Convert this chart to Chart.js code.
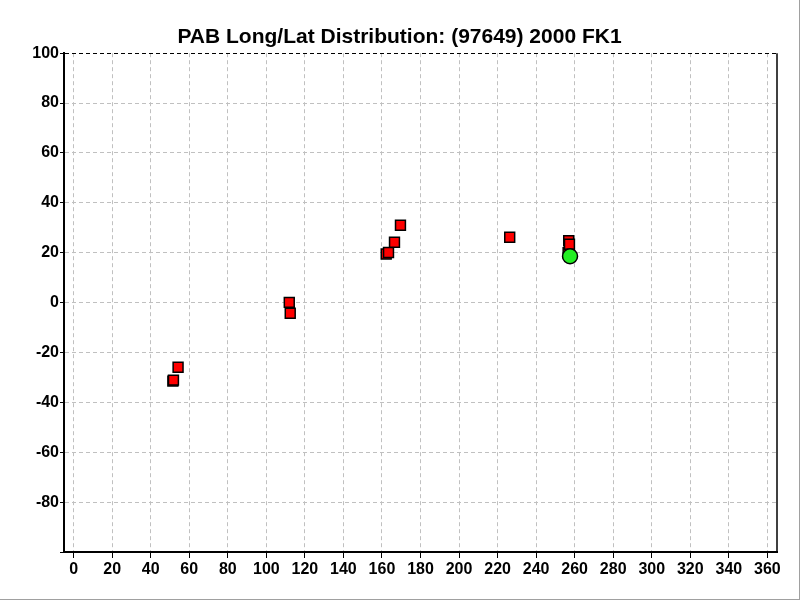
<!DOCTYPE html>
<html>
<head>
<meta charset="utf-8">
<script src="https://cdn.jsdelivr.net/npm/chart.js@4/dist/chart.umd.min.js"></script>
<style>
  html, body { margin: 0; padding: 0; background: #fff; }
  #wrap { position: relative; width: 799px; height: 599px; border-right: 1px solid #a0a0a0; border-bottom: 1px solid #a0a0a0; }
</style>
</head>
<body>
<div id="wrap"><canvas id="myChart" width="799" height="599"></canvas></div>
<script>
// PAB observations (longitude, latitude)
let pabLong = [51.5, 51.8, 54.2, 111.9, 112.4, 162.2, 163.4, 166.5, 169.6, 226.3, 256.6, 256.9, 257.3];
let pabLat = [-31.5, -31.1, -25.9, 0.1, -4.3, 19.5, 20.1, 24.2, 31.0, 26.2, 20.0, 24.8, 23.4];

// current position
let curLong = [257.6];
let curLat = [18.6];

let xTicks = [0, 20, 40, 60, 80, 100, 120, 140, 160, 180, 200, 220, 240, 260, 280, 300, 320, 340, 360];
let yTicks = [-100, -80, -60, -40, -20, 0, 20, 40, 60, 80, 100];

let toPoints = (xs, ys) => xs.map((x, i) => ({ x: x, y: ys[i] }));

let frameRight = {
  id: "frameRight",
  afterDraw: (chart) => {
    let a = chart.chartArea;
    let ctx = chart.ctx;
    ctx.save();
    ctx.strokeStyle = "#000";
    ctx.lineWidth = 1.5;
    ctx.beginPath();
    ctx.moveTo(a.right, a.top);
    ctx.lineTo(a.right, a.bottom);
    ctx.stroke();
    ctx.restore();
  }
};

let tickFont = { family: "'Liberation Sans', Arial, sans-serif", size: 16, weight: "bold" };

new Chart(document.getElementById("myChart"), {
  type: "scatter",
  data: {
    datasets: [
      {
        label: "Current",
        data: toPoints(curLong, curLat),
        pointStyle: "circle",
        pointRadius: 7.5,
        pointBorderWidth: 1.5,
        backgroundColor: "#22ee22",
        borderColor: "#000",
        order: 0
      },
      {
        label: "PAB",
        data: toPoints(pabLong, pabLat),
        pointStyle: "rect",
        pointRadius: 7,
        pointBorderWidth: 1.5,
        backgroundColor: "#ff0000",
        borderColor: "#000",
        order: 1
      }
    ]
  },
  options: {
    responsive: false,
    animation: false,
    layout: { padding: { left: 22, right: 22, top: 0, bottom: 0 } },
    plugins: {
      legend: { display: false },
      tooltip: { enabled: false },
      title: {
        display: true,
        text: "PAB Long/Lat Distribution: (97649) 2000 FK1",
        color: "#000",
        font: { family: "'Liberation Sans', Arial, sans-serif", size: 21, weight: "bold" },
        padding: { top: 25, bottom: 3 }
      }
    },
    scales: {
      x: {
        type: "linear",
        min: -5,
        max: 365,
        afterBuildTicks: (scale) => {
          scale.ticks = xTicks.map((v) => ({ value: v }));
        },
        afterFit: (scale) => { scale.height = 47; },
        ticks: { color: "#000", font: tickFont, padding: 2, maxRotation: 0, autoSkip: false },
        grid: {
          color: "#c0c0c0",
          tickColor: "#000",
          tickBorderDash: [],
          tickLength: 6
        },
        border: { color: "#000", width: 2, dash: [4, 3] }
      },
      y: {
        type: "linear",
        min: -100,
        max: 100,
        afterBuildTicks: (scale) => {
          scale.ticks = yTicks.map((v) => ({ value: v }));
        },
        afterFit: (scale) => { scale.width = 42; },
        ticks: {
          color: "#000",
          font: tickFont,
          padding: 1,
          autoSkip: false,
          callback: (v) => (v === -100 ? "" : v)
        },
        grid: {
          color: (ctx) => (ctx.tick && ctx.tick.value === 100 ? "#000" : "#c0c0c0"),
          tickColor: "#000",
          tickBorderDash: [],
          tickLength: 4
        },
        border: { color: "#000", width: 2, dash: [4, 3] }
      }
    }
  },
  plugins: [frameRight]
});
</script>
</body>
</html>
